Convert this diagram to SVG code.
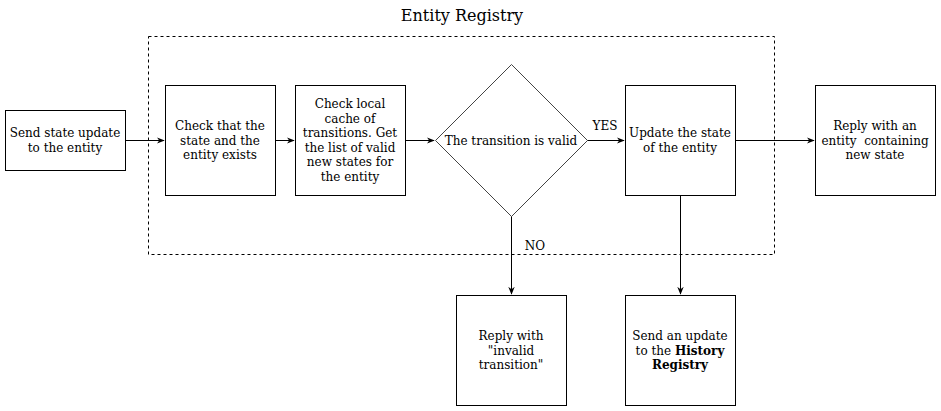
<svg xmlns="http://www.w3.org/2000/svg" width="941" height="411" viewBox="0 0 941 411">
<style>
.box{fill:#fff;stroke:#000;stroke-width:1}
.t{font-family:"DejaVu Serif",serif;font-size:12px;fill:#000;text-anchor:middle}
.c{stroke:#000;stroke-width:1;fill:none}
</style>
<defs>
<marker id="a" viewBox="0 0 10 10" refX="9" refY="5" markerWidth="8" markerHeight="8" orient="auto" markerUnits="userSpaceOnUse">
<path d="M0,1 L10,5 L0,9 L3,5 Z" fill="#000"/>
</marker>
</defs>
<rect width="941" height="411" fill="#fff"/>
<text x="462" y="21" class="t" style="font-size:16px">Entity Registry</text>
<g id="registry"><rect x="148.5" y="36.5" width="626" height="218" fill="none" stroke="#000" stroke-dasharray="3,3"/></g>
<g id="connectors">
<path class="c" d="M125,140.5 H164" marker-end="url(#a)"/>
<path class="c" d="M275,140.5 H294" marker-end="url(#a)"/>
<path class="c" d="M405,140.5 H434" marker-end="url(#a)"/>
<path class="c" d="M587,140.5 H624" marker-end="url(#a)"/>
<path class="c" d="M735,140.5 H814" marker-end="url(#a)"/>
<path class="c" d="M511.5,216 V294" marker-end="url(#a)"/>
<path class="c" d="M680.5,195 V294" marker-end="url(#a)"/>
<text x="605" y="130" class="t">YES</text>
<text x="535" y="250" class="t">NO</text>
</g>
<g id="n1"><rect class="box" x="5.5" y="110.5" width="120" height="60"/>
<text class="t" x="65" y="137">Send state update</text><text class="t" x="65" y="152">to the entity</text></g>
<g id="n2"><rect class="box" x="165.5" y="85.5" width="110" height="110"/>
<text class="t" x="220" y="130">Check that the</text><text class="t" x="220" y="144.5">state and the</text><text class="t" x="220" y="159">entity exists</text></g>
<g id="n3"><rect class="box" x="295.5" y="85.5" width="110" height="110"/>
<text class="t" x="350" y="108">Check local</text><text class="t" x="350" y="122.5">cache of</text><text class="t" x="350" y="137">transitions. Get</text><text class="t" x="350" y="151.5">the list of valid</text><text class="t" x="350" y="166">new states for</text><text class="t" x="350" y="180.5">the entity</text></g>
<g id="n4"><path d="M511.5,64.5 L587.5,140.5 L511.5,216.5 L435.5,140.5 Z" fill="#fff" stroke="#444"/>
<text class="t" x="511" y="145">The transition is valid</text></g>
<g id="n5"><rect class="box" x="625.5" y="85.5" width="110" height="110"/>
<text class="t" x="680" y="137">Update the state</text><text class="t" x="680" y="152">of the entity</text></g>
<g id="n6"><rect class="box" x="815.5" y="85.5" width="120" height="110"/>
<text class="t" x="875" y="130">Reply with an</text><text class="t" x="875" y="144.5" xml:space="preserve">entity  containing</text><text class="t" x="875" y="159">new state</text></g>
<g id="n7"><rect class="box" x="456.5" y="295.5" width="110" height="110"/>
<text class="t" x="511" y="340">Reply with</text><text class="t" x="511" y="354.5">"invalid</text><text class="t" x="511" y="369">transition"</text></g>
<g id="n8"><rect class="box" x="625.5" y="295.5" width="110" height="110"/>
<text class="t" x="680" y="340">Send an update</text><text class="t" x="680" y="354.5">to the <tspan font-weight="bold">History</tspan></text><text class="t" x="680" y="369" font-weight="bold">Registry</text></g>
</svg>
